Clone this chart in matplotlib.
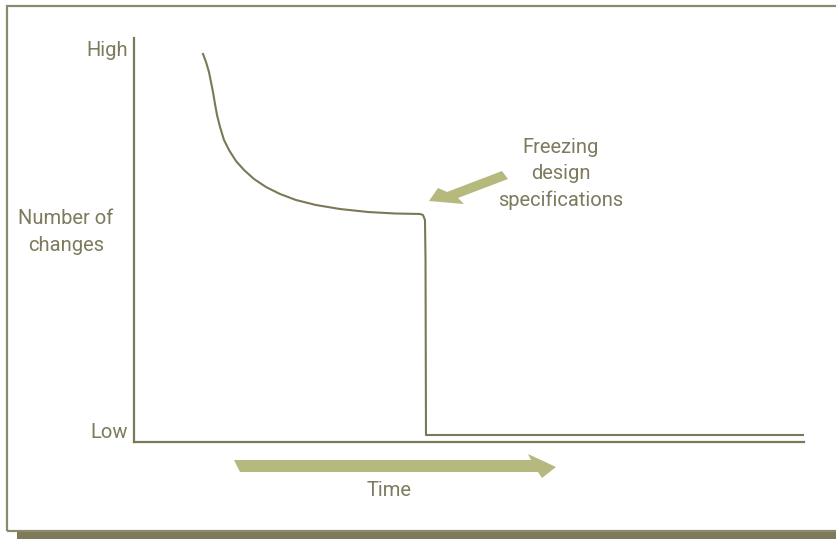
import matplotlib
matplotlib.use("Agg")
from matplotlib import pyplot as plt
from matplotlib import patches

# curve: time 0..100, number of changes 0 (Low) .. 100 (High)
time = [10.30, 10.75, 11.19, 11.49, 11.79, 12.09, 12.39, 12.84, 13.43, 14.18,
        15.22, 16.42, 17.91, 19.70, 21.79, 24.18, 27.16, 30.75, 34.93, 38.96,
        42.69, 43.13, 43.43, 43.51, 43.58, 100.0]
changes = [96.04, 94.06, 91.58, 89.11, 86.63, 83.66, 80.94, 77.97, 74.75, 72.28,
           69.55, 67.33, 65.10, 63.12, 61.39, 59.90, 58.66, 57.67, 56.93, 56.56,
           56.44, 56.19, 54.95, 45.05, 1.73, 1.73]
y_labels = ["Low", "High"]
y_title = "Number of\nchanges"
x_title = "Time"
note = "Freezing\ndesign\nspecifications"

line_color = "#7b7858"
text_color = "#7d7a5e"
arrow_color = "#b5b97e"
frame_color = "#8c8a6c"

W, H = 836, 539


def px(x, y):
    return (x / W, 1 - y / H)


fig = plt.figure(figsize=(W / 100, H / 100), dpi=100)
plt.rcParams['font.family'] = ['Roboto', 'DejaVu Sans']

# outer frame and shadow
fig.patches.append(patches.Rectangle(px(17, 539), (W - 17) / W, 8.5 / H,
                                     transform=fig.transFigure,
                                     facecolor="#7d7a5b", edgecolor="none"))
fig.patches.append(patches.Rectangle(px(7, 530.5), 850 / W, 525 / H,
                                     transform=fig.transFigure,
                                     facecolor="none", edgecolor=frame_color,
                                     lw=1.6))

left, right, top, bottom = 134, 804, 38, 442
ax = fig.add_axes([left / W, 1 - bottom / H, (right - left) / W, (bottom - top) / H])
ax.set_xlim(0, 100)
ax.set_ylim(0, 100)
ax.plot(time, changes, color=line_color, lw=1.5, solid_joinstyle="round")
for s in ["top", "right"]:
    ax.spines[s].set_visible(False)
for s in ["left", "bottom"]:
    ax.spines[s].set_color(line_color)
    ax.spines[s].set_linewidth(1.6)
ax.set_xticks([])
ax.set_yticks([])
ax.patch.set_alpha(0)

fs = 14.5
fig.text(*px(128, 50), y_labels[1], ha="right", va="center", fontsize=fs, color=text_color)
fig.text(*px(128, 433), y_labels[0], ha="right", va="center", fontsize=fs, color=text_color)
fig.text(*px(66, 232), y_title, ha="center", va="center", fontsize=fs,
         color=text_color, linespacing=1.5, multialignment="center")
fig.text(*px(389, 491), x_title, ha="center", va="center", fontsize=fs, color=text_color)
fig.text(*px(561, 174), note, ha="center", va="center", fontsize=fs,
         color=text_color, linespacing=1.5, multialignment="center")

# block arrows
time_arrow = [(234, 460), (531, 460), (528, 454), (556, 467), (542, 478),
              (538, 472), (240, 472)]
freeze_arrow = [(502, 171), (447, 192), (438, 188), (429, 201), (464, 204),
                (458, 198), (508, 179)]
for pts in (time_arrow, freeze_arrow):
    fig.patches.append(patches.Polygon([px(x, y) for x, y in pts], closed=True,
                                       transform=fig.transFigure,
                                       facecolor=arrow_color, edgecolor="none"))

fig.savefig("out.png", dpi=100)
